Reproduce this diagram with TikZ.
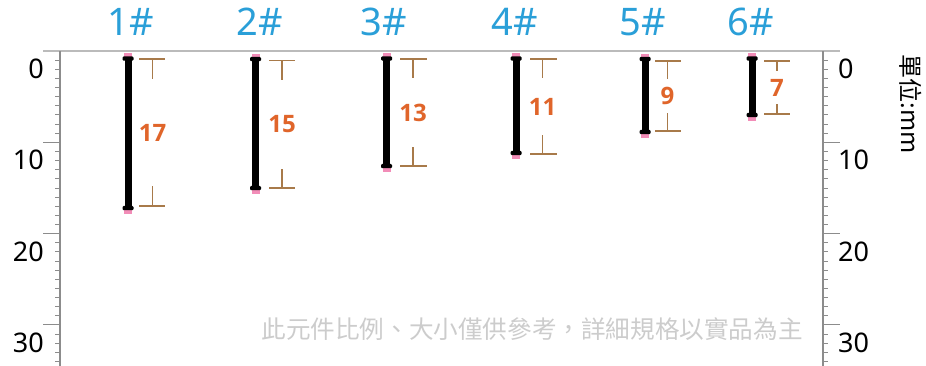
\documentclass[tikz,border=0pt]{standalone}
\usepackage{fontspec}
\setmainfont{Noto Sans}
\newfontfamily\cjk{Noto Sans CJK TC}
\newfontfamily\lblfont{Open Sans}
\definecolor{hdrblue}{HTML}{2A9FD8}
\definecolor{lblorange}{HTML}{E0652A}
\definecolor{brkbrown}{HTML}{A87A4A}
\definecolor{rulegray}{HTML}{8C8C8C}
\definecolor{topgray}{HTML}{BBBBBB}
\definecolor{capPink}{HTML}{F28DB8}
\definecolor{notegray}{HTML}{CCCCCC}
\tikzset{
  hdr/.style={text=hdrblue, font=\fontsize{38}{38}\selectfont, inner sep=0pt},
  lbl/.style={text=lblorange, font=\lblfont\bfseries\fontsize{24}{24}\selectfont, inner sep=0pt, fill=white},
  brk/.style={draw=brkbrown, line width=1.4pt},
  rul/.style={draw=rulegray, line width=1.3pt},
  tick/.style={draw=rulegray, line width=1pt},
  num/.style={font=\fontsize{27}{27}\selectfont, inner sep=0pt},
  shaft/.style={line width=7pt, draw=black},
}
\begin{document}
\begin{tikzpicture}[x=1pt,y=-1pt]
\useasboundingbox (0,0) rectangle (926,365);
% top line
\draw[draw=topgray, line width=1.5pt] (43,51) coordinate (tl) -- (840,51) coordinate (tr);
% rulers
\draw[rul] (60,51) coordinate (lr0) -- (60,366) coordinate (lr1);
\draw[rul] (823,51) coordinate (rr0) -- (823,366) coordinate (rr1);
\foreach \i in {1,...,34}{
  \pgfmathsetmacro{\yy}{51+9.133*\i}
  \pgfmathtruncatemacro{\m}{mod(\i,10)}
  \ifnum\m=0
    \draw[tick] (43,\yy) -- (60,\yy);
    \draw[tick] (823,\yy) -- (840,\yy);
  \else
    \draw[tick] (55,\yy) -- (60,\yy);
    \draw[tick] (823,\yy) -- (828,\yy);
  \fi
}
\foreach \v/\n in {0/a,10/b,20/c,30/d}{
  \pgfmathsetmacro{\yy}{51+9.133*\v+18}
  \node[num, anchor=east] (L\n) at (44,\yy) {\v};
  \node[num, anchor=west] (R\n) at (838,\yy) {\v};
}
% unit label
\node[font=\cjk\fontsize{24}{24}\selectfont, rotate=-90, inner sep=0pt] (unit) at (911,104) {單位:mm};
% note
\node[font=\cjk\fontsize{24.6}{24.6}\selectfont, text=notegray, inner sep=0pt] (note) at (532,329) {此元件比例、大小僅供參考，詳細規格以實品為主};
% pins: name/x/top/bottom/header x
\foreach \n/\x/\t/\b/\hx in {1/128/58.5/208/131, 2/255.5/59/188/260, 3/386.5/58.5/166/384, 4/516/58.5/153/515, 5/645/59/132/643, 6/752/58.5/115/751}{
  \node[hdr] (h\n) at (\hx,22) {\n\#};
  \fill[capPink] (\x-4,\t-5.5) rectangle (\x+4,\t-1.5);
  \fill[capPink] (\x-4,\b+1.5) rectangle (\x+4,\b+6);
  \draw[shaft] (\x,\t) coordinate (p\n t) -- (\x,\b) coordinate (p\n b);
  \fill[black, rounded corners=1.2pt] (\x-5.5,\t-2.2) rectangle (\x+5.5,\t+2.2);
  \fill[black, rounded corners=1.2pt] (\x-5.5,\b-2.2) rectangle (\x+5.5,\b+2.2);
}
% brackets: name/left/right/vertical/top/bottom/tick/value
\foreach \n/\l/\r/\v/\t/\b/\k/\val in {1/139/165/152.5/59/206/20/17, 2/269/295/282/60.5/188/19/15, 3/400/427/413/59/166/19/13, 4/530/557/542.5/59/154/19/11, 5/655/681/667.5/61/131/18/9, 6/764/790/777/61/114/10/7}{
  \draw[brk] (\l,\t) -- (\r,\t) (\v,\t) -- (\v,\t+\k);
  \draw[brk] (\l,\b) -- (\r,\b) (\v,\b) -- (\v,\b-\k);
  \node[lbl] (v\n) at (\v,{(\t+\b)/2}) {\val};
}
\end{tikzpicture}
\end{document}
